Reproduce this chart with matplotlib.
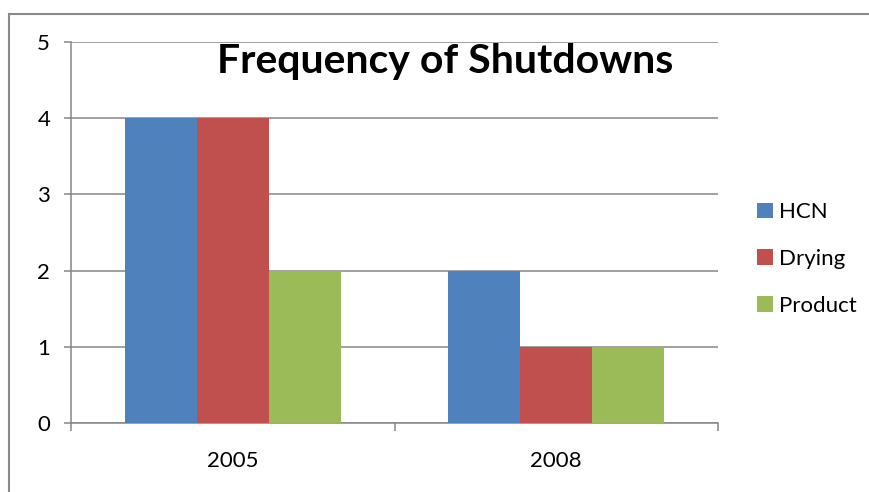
import matplotlib.pyplot as plt
import matplotlib.patches as mpatches
import numpy as np

# --- Data ---
years = ['2005', '2008']
series = ['HCN', 'Drying', 'Product']
hcn = [4, 2]
drying = [4, 1]
product = [2, 1]
colors = ['#4F81BD', '#C0504D', '#9BBB59']

plt.rcParams['font.family'] = ['Lato', 'DejaVu Sans']

W, H = 869, 492
fig = plt.figure(figsize=(W / 100, H / 100), dpi=100)
ax = fig.add_axes([71 / W, 1 - 423 / H, (718 - 71) / W, (423 - 42) / H])

# --- Bars (Excel style, gap width 150%) ---
x = np.arange(len(years))
bw = 1 / 4.5
for i, (vals, name) in enumerate(zip([hcn, drying, product], series)):
    ax.bar(x + (i - 1) * bw, vals, width=bw, color=colors[i], label=name, zorder=3)

ax.set_xlim(-0.5, 1.5)
ax.set_ylim(0, 5)

grid_col = '#868686'
ax.set_yticks(range(0, 6))
ax.yaxis.grid(True, color=grid_col, linewidth=1.1, zorder=0)
ax.tick_params(axis='y', length=5, width=1.1, color=grid_col, labelsize=16, pad=10)

ax.set_xticks(x)
ax.set_xticklabels(years)
ax.set_xticks([-0.5, 0.5, 1.5], minor=True)
ax.tick_params(axis='x', which='major', length=0, labelsize=16, pad=20)
ax.tick_params(axis='x', which='minor', length=6, width=1.1, color=grid_col)

for s in ['top', 'right']:
    ax.spines[s].set_visible(False)
for s in ['left', 'bottom']:
    ax.spines[s].set_color(grid_col)
    ax.spines[s].set_linewidth(1.1)

# --- Title inside the plot area ---
fig.text(445 / W, 1 - 62 / H, 'Frequency of Shutdowns', ha='center', va='center',
         fontsize=29.5, fontweight='bold')

# --- Legend ---
fig.legend(loc='center left', bbox_to_anchor=(737 / W, 1 - 259 / H), frameon=False,
           fontsize=16, handlelength=0.7, handleheight=0.7, handletextpad=0.3,
           labelspacing=1.2)

# --- Outer chart border ---
fig.patches.append(mpatches.Rectangle((9 / W, -0.1), 1.2, 1.1 - 14 / H,
                                      transform=fig.transFigure, fill=False,
                                      edgecolor='#8a8a8a', linewidth=1.5))

fig.savefig('out.png', dpi=100)
